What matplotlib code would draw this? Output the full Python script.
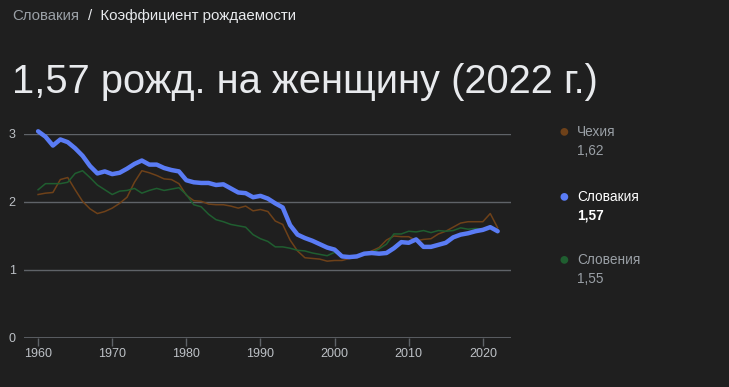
import matplotlib
matplotlib.use("Agg")
import matplotlib.pyplot as plt

# Fertility rate data (births per woman), 1960-2022
years = list(range(1960, 2023))

slovakia = [3.04, 2.96, 2.83, 2.92, 2.88, 2.79, 2.68, 2.53, 2.42, 2.45,
            2.41, 2.43, 2.49, 2.56, 2.61, 2.55, 2.55, 2.50, 2.47, 2.45,
            2.32, 2.29, 2.28, 2.28, 2.25, 2.26, 2.20, 2.14, 2.13, 2.07,
            2.09, 2.05, 1.98, 1.92, 1.66, 1.52, 1.47, 1.43, 1.38, 1.33,
            1.30, 1.20, 1.19, 1.20, 1.24, 1.25, 1.24, 1.25, 1.32, 1.41,
            1.40, 1.45, 1.34, 1.34, 1.37, 1.40, 1.48, 1.52, 1.54, 1.57,
            1.59, 1.63, 1.57]

czechia = [2.11, 2.13, 2.14, 2.33, 2.36, 2.18, 2.01, 1.90, 1.83, 1.86,
           1.91, 1.98, 2.07, 2.29, 2.46, 2.43, 2.39, 2.34, 2.33, 2.27,
           2.10, 2.02, 2.01, 1.97, 1.96, 1.96, 1.94, 1.91, 1.94, 1.87,
           1.89, 1.86, 1.72, 1.67, 1.44, 1.28, 1.18, 1.17, 1.16, 1.13,
           1.14, 1.14, 1.17, 1.18, 1.23, 1.28, 1.33, 1.44, 1.50, 1.49,
           1.49, 1.43, 1.45, 1.46, 1.53, 1.57, 1.63, 1.69, 1.71, 1.71,
           1.71, 1.83, 1.62]

slovenia = [2.18, 2.27, 2.27, 2.27, 2.29, 2.42, 2.46, 2.36, 2.25, 2.18,
            2.11, 2.16, 2.17, 2.20, 2.13, 2.17, 2.20, 2.17, 2.19, 2.21,
            2.11, 1.96, 1.93, 1.82, 1.74, 1.71, 1.67, 1.65, 1.63, 1.52,
            1.46, 1.42, 1.34, 1.34, 1.32, 1.29, 1.28, 1.25, 1.23, 1.21,
            1.26, 1.21, 1.21, 1.20, 1.25, 1.26, 1.31, 1.38, 1.53, 1.53,
            1.57, 1.56, 1.58, 1.55, 1.58, 1.57, 1.58, 1.62, 1.60, 1.61,
            1.60, 1.64, 1.55]

names = ["Чехия", "Словакия", "Словения"]
latest = ["1,62", "1,57", "1,55"]
xticks = [1960, 1970, 1980, 1990, 2000, 2010, 2020]
yticks = [0, 1, 2, 3]

BG = "#1f1f1f"
C_CZ = "#6e4119"
C_SK = "#5a7cf5"
C_SI = "#1f5e30"

plt.rcParams["font.family"] = ["Liberation Sans", "DejaVu Sans"]

fig = plt.figure(figsize=(7.29, 3.87), dpi=100, facecolor=BG)
W, H = 729, 387

# breadcrumb
fig.text(12 / W, 1 - 16 / H, "Словакия", color="#9aa0a6", fontsize=10.8, va="center")
fig.text(88 / W, 1 - 16 / H, "/  Коэффициент рождаемости", color="#e8eaed",
         fontsize=10.8, va="center")

# headline
fig.text(12 / W, 1 - 82 / H, "1,57 рожд. на женщину (2022 г.)", color="#e8eaed",
         fontsize=28.7, va="center")

# chart area: y=0 at px 338, y=3 at px 134
ax = fig.add_axes([24 / W, 1 - 338 / H, (511 - 24) / W, 204 / H])
ax.set_facecolor(BG)
ax.set_xlim(1958.1, 2023.8)
ax.set_ylim(0, 3)

ax.plot(years, czechia, color=C_CZ, lw=1.1, clip_on=False, zorder=3)
ax.plot(years, slovenia, color=C_SI, lw=1.1, clip_on=False, zorder=3)
ax.plot(years, slovakia, color=C_SK, lw=3.2, clip_on=False, zorder=4,
        solid_joinstyle="round", solid_capstyle="round")

for y in yticks[1:]:
    ax.axhline(y, color="#5f6368", lw=1, zorder=1)
ax.axhline(0, color="#5f6368", lw=2, zorder=1)

for s in ax.spines.values():
    s.set_visible(False)

ax.set_yticks(yticks)
ax.set_yticklabels([str(v) for v in yticks])
ax.set_xticks(xticks)
ax.set_xticklabels([str(v) for v in xticks])
ax.tick_params(axis="y", length=0, pad=6, labelcolor="#bdc1c6", labelsize=9)
ax.tick_params(axis="x", length=6, width=1, color="#5f6368", pad=1,
               labelcolor="#bdc1c6", labelsize=9)

# legend on the right
legend_y = [132, 197, 260]
colors = [C_CZ, C_SK, C_SI]
for name, val, col, py in zip(names, latest, colors, legend_y):
    active = name == "Словакия"
    tc = "#ffffff" if active else "#9aa0a6"
    fig.text(564 / W, 1 - py / H, "●", color=col, fontsize=13, ha="center", va="center")
    fig.text(577 / W, 1 - py / H, name, color=tc, fontsize=9.8, va="center")
    fig.text(577 / W, 1 - (py + 19) / H, val, color=tc, fontsize=9.8, va="center",
             fontweight="bold" if active else "normal")

fig.savefig("out.png", dpi=100, facecolor=BG)
